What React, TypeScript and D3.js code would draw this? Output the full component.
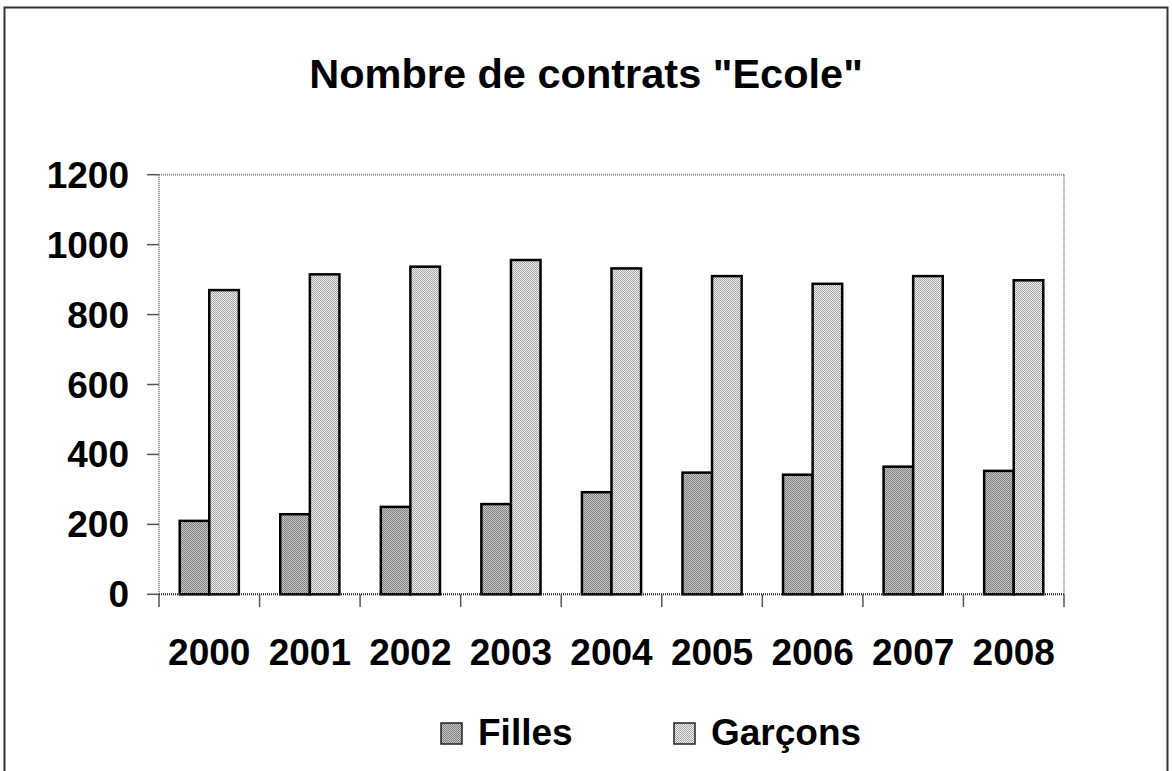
import React from "react";
import * as d3 from "d3";

const years = ["2000", "2001", "2002", "2003", "2004", "2005", "2006", "2007", "2008"];
const filles = [210, 229, 250, 258, 292, 348, 342, 365, 353];
const garcons = [870, 915, 937, 956, 932, 910, 888, 910, 898];
const seriesNames = ["Filles", "Garçons"];
const yTicks = [0, 200, 400, 600, 800, 1000, 1200];
const title = 'Nombre de contrats "Ecole"';

const W = 1172;
const H = 771;
const FONT = "'Liberation Sans', Arial, Helvetica, sans-serif";

export default function App() {
  const left = 159;
  const right = 1064;
  const top = 174.7;
  const bottom = 594.3;

  const x = d3.scaleBand<string>().domain(years).range([left, right]).paddingInner(0).paddingOuter(0);
  const sub = d3
    .scaleBand<string>()
    .domain(seriesNames)
    .range([0, x.bandwidth()])
    .paddingInner(0)
    .paddingOuter(0.7);
  const y = d3.scaleLinear().domain([0, 1200]).range([bottom, top]);

  const seriesValues = [filles, garcons];
  const fills = ["url(#patF)", "url(#patG)"];

  const boundaries = d3.range(years.length + 1).map((i) => left + i * x.step());

  return (
    <svg width={W} height={H} style={{ position: "absolute", left: 0, top: 0, background: "#fff" }}>
      <defs>
        <pattern id="patF" width="2" height="2" patternUnits="userSpaceOnUse">
          <rect width="2" height="2" fill="#c6c6c6" />
          <rect width="1" height="1" fill="#808080" />
          <rect x="1" y="1" width="1" height="1" fill="#808080" />
        </pattern>
        <pattern id="patG" width="2" height="2" patternUnits="userSpaceOnUse">
          <rect width="2" height="2" fill="#f0f0f0" />
          <rect width="1" height="1" fill="#a4a4a4" />
          <rect x="1" y="1" width="1" height="1" fill="#a4a4a4" />
        </pattern>
      </defs>
      <rect x={4.5} y={7.5} width={1163} height={770} fill="#fff" stroke="#333" strokeWidth={2} />

      <text x={586} y={88} textAnchor="middle" fontFamily={FONT} fontWeight="bold" fontSize={41.5} fill="#000">
        {title}
      </text>

      {/* plot frame top/right */}
      <line x1={left} x2={right} y1={top} y2={top} stroke="#8a8a8a" strokeWidth={2} strokeDasharray="1,1" />
      <line x1={right} x2={right} y1={top} y2={bottom} stroke="#8a8a8a" strokeWidth={2} strokeDasharray="1,1" />

      {/* y ticks */}
      {yTicks.map((t) => (
        <g key={t}>
          <line x1={147} x2={left} y1={y(t)} y2={y(t)} stroke="#555" strokeWidth={1.5} />
          <text
            x={129}
            y={y(t) + 13}
            textAnchor="end"
            fontFamily={FONT}
            fontWeight="bold"
            fontSize={37}
            fill="#000"
          >
            {t}
          </text>
        </g>
      ))}

      {/* bars */}
      {years.map((yr, i) => (
        <g key={yr}>
          {seriesNames.map((s, j) => {
            const v = seriesValues[j][i];
            const bx = (x(yr) as number) + (sub(s) as number);
            return (
              <rect
                key={s}
                x={bx}
                y={y(v)}
                width={sub.bandwidth()}
                height={bottom - y(v)}
                fill={fills[j]}
                stroke="#000"
                strokeWidth={2.5}
              />
            );
          })}
        </g>
      ))}

      {/* left axis */}
      <line x1={left} x2={left} y1={top} y2={bottom} stroke="#8a8a8a" strokeWidth={2} strokeDasharray="1,1" />
      {/* bottom axis */}
      <line x1={left} x2={right} y1={bottom} y2={bottom} stroke="#222" strokeWidth={2} strokeDasharray="1,1" />
      {boundaries.map((bx, i) => (
        <line key={i} x1={bx} x2={bx} y1={bottom} y2={607} stroke="#555" strokeWidth={1.5} />
      ))}

      {/* x labels */}
      {years.map((yr) => (
        <text
          key={yr}
          x={(x(yr) as number) + x.bandwidth() / 2}
          y={665}
          textAnchor="middle"
          fontFamily={FONT}
          fontWeight="bold"
          fontSize={37}
          fill="#000"
        >
          {yr}
        </text>
      ))}

      {/* legend */}
      {seriesNames.map((s, j) => {
        const lx = [441, 674][j];
        return (
          <g key={s}>
            <rect x={lx} y={723} width={21} height={21} fill={fills[j]} stroke="#222" strokeWidth={1.5} />
            <text x={lx + 37} y={745} fontFamily={FONT} fontWeight="bold" fontSize={37} fill="#000">
              {s}
            </text>
          </g>
        );
      })}
    </svg>
  );
}
